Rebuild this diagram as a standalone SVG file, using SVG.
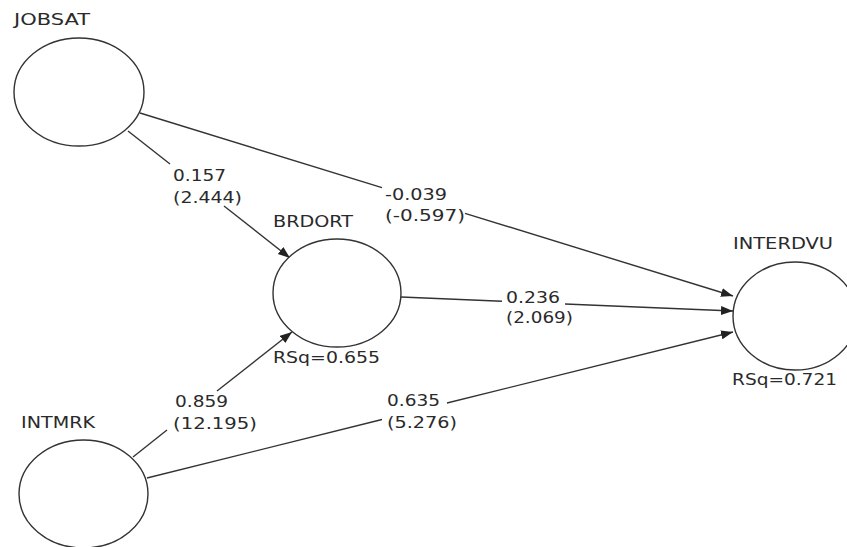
<svg xmlns="http://www.w3.org/2000/svg" width="847" height="547" viewBox="0 0 847 547">
<style>
.node{fill:#fff;stroke:#333;stroke-width:1.4}
.edge{fill:none;stroke:#333;stroke-width:1.4}
text{font-family:"DejaVu Sans","Verdana",sans-serif;font-size:15px;fill:#2a2a2a}
</style>
<defs>
<marker id="ah" markerUnits="userSpaceOnUse" markerWidth="13" markerHeight="10" refX="12" refY="4.5" orient="auto">
<path d="M0,0 L12,4.5 L0,9 z" fill="#222"/>
</marker>
</defs>
<rect width="847" height="547" fill="#fff"/>
<g id="connectors">
<line class="edge" x1="128" y1="131" x2="170" y2="164"/>
<line class="edge" x1="224" y1="206" x2="290" y2="258" marker-end="url(#ah)"/>
<line class="edge" x1="140" y1="113" x2="382" y2="187.7"/>
<line class="edge" x1="465" y1="213.3" x2="733" y2="296" marker-end="url(#ah)"/>
<line class="edge" x1="401" y1="297" x2="502" y2="301.3"/>
<line class="edge" x1="565" y1="304" x2="733" y2="311" marker-end="url(#ah)"/>
<line class="edge" x1="133" y1="457" x2="167" y2="430"/>
<line class="edge" x1="217" y1="391" x2="292" y2="332" marker-end="url(#ah)"/>
<line class="edge" x1="147" y1="478" x2="382" y2="419.5"/>
<line class="edge" x1="447" y1="403" x2="733" y2="332" marker-end="url(#ah)"/>
</g>
<g id="edge-labels">
<text x="173" y="181" textLength="53" lengthAdjust="spacingAndGlyphs">0.157</text>
<text x="173" y="203" textLength="69" lengthAdjust="spacingAndGlyphs">(2.444)</text>
<text x="385" y="200" textLength="62" lengthAdjust="spacingAndGlyphs">-0.039</text>
<text x="385" y="221" textLength="80" lengthAdjust="spacingAndGlyphs">(-0.597)</text>
<text x="506" y="303" textLength="54" lengthAdjust="spacingAndGlyphs">0.236</text>
<text x="506" y="323" textLength="67" lengthAdjust="spacingAndGlyphs">(2.069)</text>
<text x="175" y="407" textLength="53" lengthAdjust="spacingAndGlyphs">0.859</text>
<text x="173" y="429" textLength="84" lengthAdjust="spacingAndGlyphs">(12.195)</text>
<text x="387" y="406" textLength="53" lengthAdjust="spacingAndGlyphs">0.635</text>
<text x="387" y="428" textLength="70" lengthAdjust="spacingAndGlyphs">(5.276)</text>
</g>
<g id="JOBSAT">
<ellipse class="node" cx="79" cy="92" rx="65" ry="54"/>
<text x="14" y="25" textLength="76" lengthAdjust="spacingAndGlyphs">JOBSAT</text>
</g>
<g id="BRDORT">
<ellipse class="node" cx="337" cy="293" rx="64" ry="54"/>
<text x="273" y="227" textLength="80" lengthAdjust="spacingAndGlyphs">BRDORT</text>
<text x="273" y="363" textLength="107" lengthAdjust="spacingAndGlyphs">RSq=0.655</text>
</g>
<g id="INTERDVU">
<ellipse class="node" cx="795" cy="316" rx="62" ry="54"/>
<text x="733" y="249" textLength="100" lengthAdjust="spacingAndGlyphs">INTERDVU</text>
<text x="732" y="385" textLength="105" lengthAdjust="spacingAndGlyphs">RSq=0.721</text>
</g>
<g id="INTMRK">
<ellipse class="node" cx="83.5" cy="494" rx="64.5" ry="54"/>
<text x="21" y="428" textLength="74" lengthAdjust="spacingAndGlyphs">INTMRK</text>
</g>
</svg>
